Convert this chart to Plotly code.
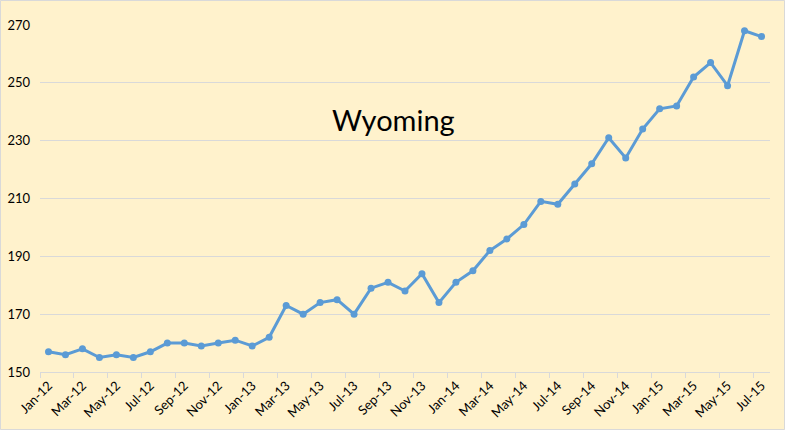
import plotly.graph_objects as go

months = ["Jan-12","Feb-12","Mar-12","Apr-12","May-12","Jun-12","Jul-12","Aug-12","Sep-12","Oct-12","Nov-12","Dec-12",
          "Jan-13","Feb-13","Mar-13","Apr-13","May-13","Jun-13","Jul-13","Aug-13","Sep-13","Oct-13","Nov-13","Dec-13",
          "Jan-14","Feb-14","Mar-14","Apr-14","May-14","Jun-14","Jul-14","Aug-14","Sep-14","Oct-14","Nov-14","Dec-14",
          "Jan-15","Feb-15","Mar-15","Apr-15","May-15","Jun-15","Jul-15"]
production = [157,156,158,155,156,155,157,160,160,159,160,161,
              159,162,173,170,174,175,170,179,181,178,184,174,
              181,185,192,196,201,209,208,215,222,231,224,234,
              241,242,252,257,249,268,266]
y_ticks = [150,170,190,210,230,250,270]
title_text = "Wyoming"

fig = go.Figure()
fig.add_trace(go.Scatter(
    x=months, y=production, mode="lines+markers",
    line=dict(color="#5B9BD5", width=3),
    marker=dict(color="#5B9BD5", size=7),
    showlegend=False, hoverinfo="x+y"))

fig.update_layout(
    width=785, height=430,
    margin=dict(l=40, r=15, t=25, b=58, autoexpand=False),
    paper_bgcolor="#FFF2CC", plot_bgcolor="#FFF2CC",
    font=dict(family="Lato, Open Sans, sans-serif", size=13, color="#000000"),
    xaxis=dict(type="category", tickmode="linear", dtick=2, tick0=0, automargin=False,
               tickson="boundaries", ticks="outside", ticklen=5, tickcolor="#D9D9D9",
               tickangle=-45, showgrid=False, showline=True, linecolor="#D9D9D9",
               linewidth=1, range=[-0.5, len(months) - 0.5],
               tickfont=dict(size=13, color="#000000")),
    yaxis=dict(range=[150, 270], tickvals=y_ticks, showgrid=True, gridcolor="#D9D9D9",
               gridwidth=1, zeroline=False, showline=False, ticks="", automargin=False,
               ticklabelstandoff=9,
               tickfont=dict(size=13, color="#000000")),
    annotations=[dict(text=title_text, xref="paper", yref="paper",
                      x=0.4836, y=0.728, xanchor="center", yanchor="middle", showarrow=False,
                      font=dict(size=29, color="#000000", family="Lato, Open Sans, sans-serif"))],
    shapes=[dict(type="rect", xref="paper", yref="paper",
                 x0=-0.0541, x1=1.0199, y0=-0.1657, y1=1.0706,
                 line=dict(color="#D9D9D9", width=1), fillcolor="rgba(0,0,0,0)", layer="below")],
)

fig.write_html("out.html", config={"displayModeBar": False},
               post_script="document.body.style.margin='0';document.body.style.padding='0';")
